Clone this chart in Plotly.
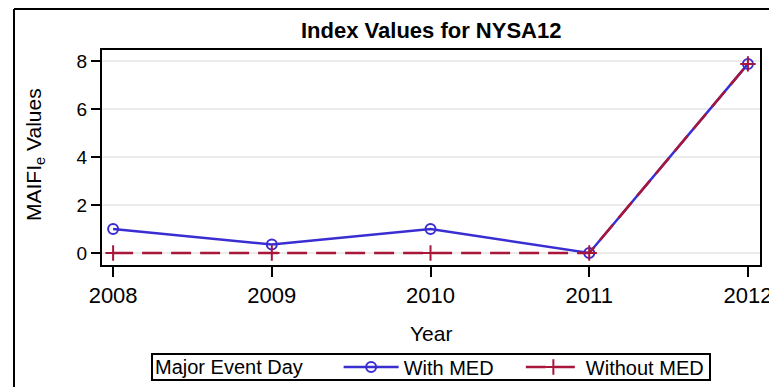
import plotly.graph_objects as go

years = [2008, 2009, 2010, 2011, 2012]
with_med = [1.0, 0.35, 1.0, 0.0, 7.88]
without_med = [0.0, 0.0, 0.0, 0.0, 7.88]
y_ticks = [0, 2, 4, 6, 8]

BLUE = "#3A2ED2"
RED = "#A8163A"
FONT = "Arial, Liberation Sans, sans-serif"
NB = "\u00a0"

fig = go.Figure()
fig.add_trace(go.Scatter(
    x=years, y=with_med, name="With MED" + NB * 4, mode="lines+markers",
    line=dict(color=BLUE, width=2.5),
    marker=dict(symbol="circle-open", size=10, color=BLUE, line=dict(width=2)),
))
fig.add_trace(go.Scatter(
    x=years, y=without_med, name="Without MED", mode="lines+markers",
    line=dict(color=RED, width=2.5, dash="20px,9px"),
    marker=dict(symbol="cross-thin-open", size=11, color=RED, line=dict(width=2, color=RED)),
))

# the page body has an 8px margin; the figure fills the rest of the window
OFF = 8
W, H = 777 - OFF, 387 - OFF
PL, PR, PT, PB = 102, 760, 50, 265   # plot frame in window pixels
L, R, T, B = PL - OFF, W - (PR - OFF), PT - OFF, H - (PB - OFF)
pw, ph = W - L - R, H - T - B

def px_x(p):
    return (p - OFF - L) / pw

def px_y(p):
    return (H - B - (p - OFF)) / ph

fig.update_layout(
    width=W, height=H,
    margin=dict(l=L, r=R, t=T, b=B, autoexpand=False),
    paper_bgcolor="white", plot_bgcolor="white",
    font=dict(family=FONT, color="black"),
    showlegend=True,
    legend=dict(
        orientation="h", x=px_x(153), xanchor="left",
        yref="container", y=1 - (367 - OFF) / H, yanchor="middle",
        title=dict(text="Major Event Day" + NB * 5, side="left", font=dict(size=20)),
        font=dict(size=20), borderwidth=0,
        bgcolor="rgba(0,0,0,0)", itemwidth=55, tracegroupgap=0,
    ),
    xaxis=dict(
        range=[2007.93, 2012.076], tickvals=years, ticktext=[str(y) for y in years],
        ticks="outside", ticklen=10, tickwidth=2, tickcolor="black",
        tickfont=dict(size=22), showgrid=False, zeroline=False, automargin=False,
        showline=True, linecolor="black", linewidth=2, mirror=True,
    ),
    yaxis=dict(
        range=[-0.5, 8.46], tickvals=y_ticks,
        ticks="outside", ticklen=9, tickwidth=2, tickcolor="black",
        tickfont=dict(size=19), showgrid=True, gridcolor="#ECECEC", gridwidth=1.5,
        zeroline=False, automargin=False,
        showline=True, linecolor="black", linewidth=2, mirror=True,
    ),
    annotations=[
        dict(text="<b>Index Values for NYSA12</b>", xref="paper", yref="paper",
             x=px_x(431), y=px_y(30), xanchor="center", yanchor="middle",
             showarrow=False, font=dict(size=22)),
        dict(text="Year", xref="paper", yref="paper", x=px_x(431), y=px_y(333),
             xanchor="center", yanchor="middle", showarrow=False, font=dict(size=21)),
        dict(text="MAIFI<sub>e</sub> Values", xref="paper", yref="paper",
             x=px_x(35), y=px_y(155), xanchor="center", yanchor="middle",
             textangle=-90, showarrow=False, font=dict(size=21)),
    ],
    shapes=[
        # outer frame (top and left edges visible)
        dict(type="line", xref="paper", yref="paper", x0=px_x(14), x1=px_x(777),
             y0=px_y(9), y1=px_y(9), line=dict(color="black", width=2)),
        dict(type="line", xref="paper", yref="paper", x0=px_x(14), x1=px_x(14),
             y0=px_y(9), y1=px_y(387), line=dict(color="black", width=2)),
        # legend box
        dict(type="rect", xref="paper", yref="paper", x0=px_x(152), x1=px_x(710),
             y0=px_y(380), y1=px_y(354), line=dict(color="black", width=2)),
    ],
)

fig.write_html("out.html")
